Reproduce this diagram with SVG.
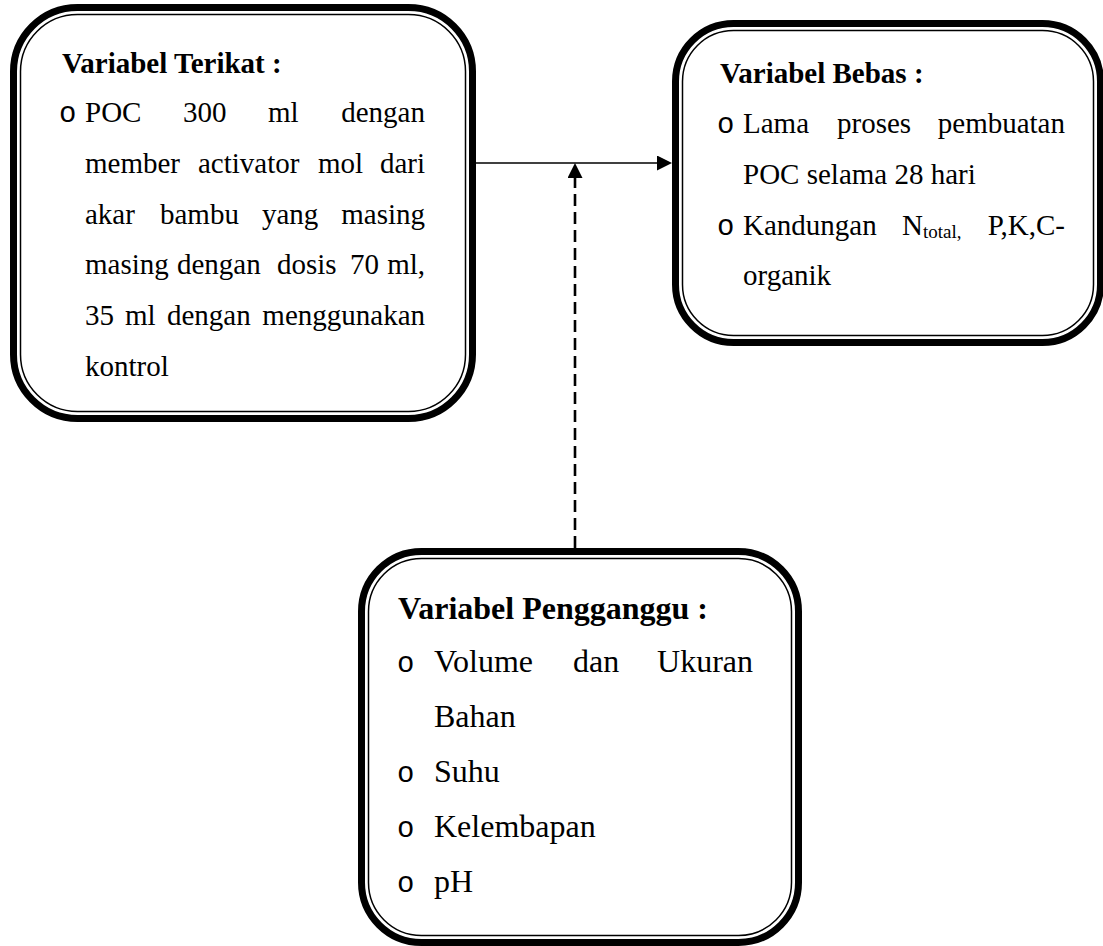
<svg xmlns="http://www.w3.org/2000/svg" width="1103" height="946" viewBox="0 0 1103 946">
  <style>
    .frame-thick { fill: none; stroke: #000; stroke-width: 7; }
    .frame-thin { fill: none; stroke: #000; stroke-width: 1.5; }
    .t { font-family: "Liberation Serif", "Times New Roman", serif; fill: #000; font-size: 29px; }
    .t3 { font-size: 32px; }
    .b { font-weight: bold; }
    .end { text-anchor: end; }
    .bul { font-family: "Liberation Mono", "Courier New", monospace; font-size: 29px; fill: #000; }
    .sub { font-size: 19px; }
    .link { fill: none; stroke: #000; stroke-width: 1.7; }
    .dash { fill: none; stroke: #000; stroke-width: 2.6; stroke-dasharray: 12 6; }
  </style>
  <defs>
    <marker id="head" markerUnits="userSpaceOnUse" viewBox="0 0 15 15" markerWidth="15" markerHeight="15" refX="11" refY="7.5" orient="auto">
      <path d="M0,0 L15,7.5 L0,15 Z" fill="#000"/>
    </marker>
  </defs>
  <rect width="1103" height="946" fill="#fff"/>

  <!-- connectors -->
  <g id="connectors">
    <line class="link" x1="476" y1="163" x2="668" y2="163" marker-end="url(#head)"/>
    <line class="dash" x1="575" y1="548" x2="575" y2="167" marker-end="url(#head)"/>
  </g>

  <!-- dependent variable box -->
  <g id="terikat">
    <rect class="frame-thick" x="13.5" y="7.5" width="459" height="411" rx="64" ry="64"/>
    <rect class="frame-thin" x="20.5" y="14.5" width="445" height="397" rx="57" ry="57"/>
    <text class="t b" x="62" y="73">Variabel Terikat :</text>
    <text class="bul" x="59" y="122">o</text>
    <text class="t" y="122"><tspan x="85">POC</tspan><tspan x="183">300</tspan><tspan x="268">ml</tspan></text>
    <text class="t end" x="425" y="122">dengan</text>
    <text class="t" y="173"><tspan x="85">member</tspan><tspan x="198">activator</tspan><tspan x="318">mol</tspan></text>
    <text class="t end" x="425" y="173">dari</text>
    <text class="t" y="224"><tspan x="85">akar</tspan><tspan x="160">bambu</tspan><tspan x="262">yang</tspan></text>
    <text class="t end" x="425" y="224">masing</text>
    <text class="t" y="274"><tspan x="85">masing</tspan><tspan x="177">dengan</tspan><tspan x="277">dosis</tspan><tspan x="350">70</tspan></text>
    <text class="t end" x="425" y="274">ml,</text>
    <text class="t" y="325"><tspan x="85">35</tspan><tspan x="125">ml</tspan><tspan x="167">dengan</tspan></text>
    <text class="t end" x="425" y="325">menggunakan</text>
    <text class="t" x="85" y="376">kontrol</text>
  </g>

  <!-- independent variable box -->
  <g id="bebas">
    <rect class="frame-thick" x="675.5" y="23.5" width="425" height="319" rx="58" ry="58"/>
    <rect class="frame-thin" x="682.5" y="30.5" width="411" height="305" rx="51" ry="51"/>
    <text class="t b" x="720" y="83">Variabel Bebas :</text>
    <text class="bul" x="717" y="133">o</text>
    <text class="t" y="133"><tspan x="743">Lama</tspan><tspan x="837">proses</tspan></text>
    <text class="t end" x="1065" y="133">pembuatan</text>
    <text class="t" x="743" y="184">POC selama 28 hari</text>
    <text class="bul" x="717" y="235">o</text>
    <text class="t" y="235"><tspan x="743">Kandungan</tspan><tspan x="902">N</tspan><tspan class="sub" dy="3">total,</tspan></text>
    <text class="t end" x="1065" y="235">P,K,C-</text>
    <text class="t" x="743" y="285">organik</text>
  </g>

  <!-- confounding variable box -->
  <g id="pengganggu">
    <rect class="frame-thick" x="361.5" y="551.5" width="437" height="391" rx="60" ry="60"/>
    <rect class="frame-thin" x="368.5" y="558.5" width="423" height="377" rx="53" ry="53"/>
    <text class="t t3 b" x="398" y="619">Variabel Pengganggu :</text>
    <text class="bul" x="397" y="672">o</text>
    <text class="t t3" y="672"><tspan x="434">Volume</tspan><tspan x="573">dan</tspan></text>
    <text class="t t3 end" x="753" y="672">Ukuran</text>
    <text class="t t3" x="434" y="727">Bahan</text>
    <text class="bul" x="397" y="782">o</text>
    <text class="t t3" x="434" y="782">Suhu</text>
    <text class="bul" x="397" y="837">o</text>
    <text class="t t3" x="434" y="837">Kelembapan</text>
    <text class="bul" x="397" y="892">o</text>
    <text class="t t3" x="434" y="892">pH</text>
  </g>
</svg>
